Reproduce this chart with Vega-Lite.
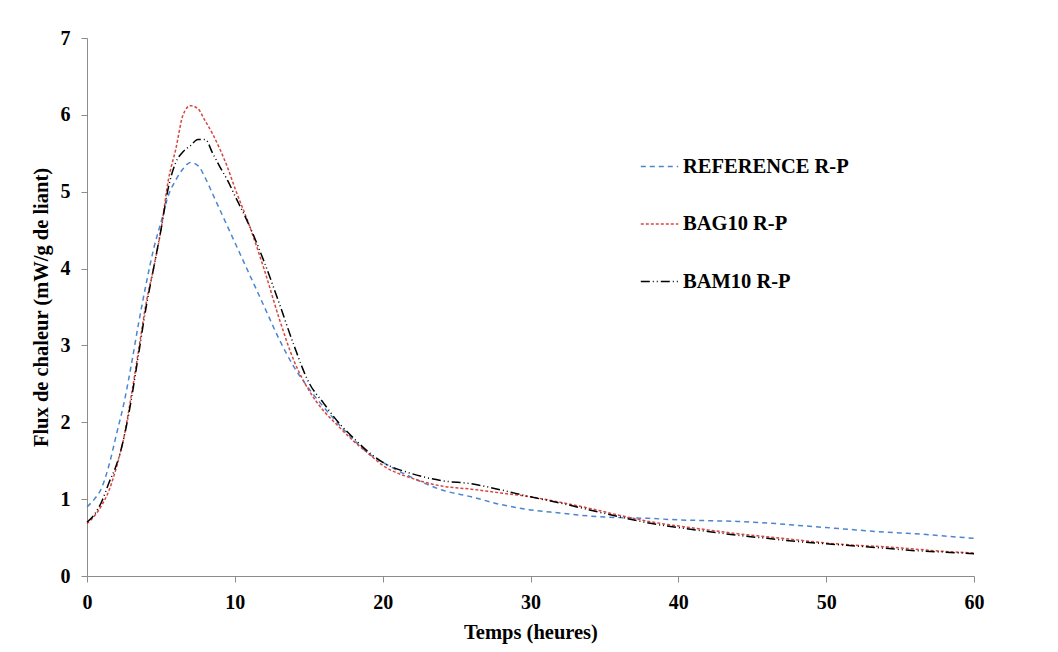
{
  "$schema": "https://vega.github.io/schema/vega-lite/v6.json",
  "width": 887,
  "height": 538,
  "autosize": "none",
  "padding": {"left": 87, "top": 38, "right": 84, "bottom": 76},
  "background": "white",
  "config": {
    "view": {"stroke": null},
    "font": "Liberation Serif",
    "axis": {
      "domainColor": "#8c8c8c",
      "tickColor": "#8c8c8c",
      "grid": false,
      "labelFont": "Liberation Serif",
      "labelFontWeight": "bold",
      "labelFontSize": 20,
      "labelColor": "black",
      "labelFlush": false,
      "titleFont": "Liberation Serif",
      "titleFontWeight": "bold",
      "titleFontSize": 20.5,
      "titleColor": "black",
      "tickSize": 6
    }
  },
  "data": {
    "values": [
      {"t": 0, "v": 0.90, "s": "REFERENCE R-P"},
      {"t": 0.5, "v": 1.0, "s": "REFERENCE R-P"},
      {"t": 1, "v": 1.15, "s": "REFERENCE R-P"},
      {"t": 1.5, "v": 1.45, "s": "REFERENCE R-P"},
      {"t": 2, "v": 1.85, "s": "REFERENCE R-P"},
      {"t": 2.5, "v": 2.25, "s": "REFERENCE R-P"},
      {"t": 3, "v": 2.75, "s": "REFERENCE R-P"},
      {"t": 3.5, "v": 3.3, "s": "REFERENCE R-P"},
      {"t": 4, "v": 3.8, "s": "REFERENCE R-P"},
      {"t": 4.5, "v": 4.25, "s": "REFERENCE R-P"},
      {"t": 5, "v": 4.6, "s": "REFERENCE R-P"},
      {"t": 5.5, "v": 4.95, "s": "REFERENCE R-P"},
      {"t": 6, "v": 5.15, "s": "REFERENCE R-P"},
      {"t": 6.5, "v": 5.3, "s": "REFERENCE R-P"},
      {"t": 7, "v": 5.38, "s": "REFERENCE R-P"},
      {"t": 7.5, "v": 5.34, "s": "REFERENCE R-P"},
      {"t": 8, "v": 5.18, "s": "REFERENCE R-P"},
      {"t": 8.5, "v": 4.97, "s": "REFERENCE R-P"},
      {"t": 9, "v": 4.76, "s": "REFERENCE R-P"},
      {"t": 9.5, "v": 4.55, "s": "REFERENCE R-P"},
      {"t": 10, "v": 4.34, "s": "REFERENCE R-P"},
      {"t": 11, "v": 3.92, "s": "REFERENCE R-P"},
      {"t": 12, "v": 3.5, "s": "REFERENCE R-P"},
      {"t": 13, "v": 3.08, "s": "REFERENCE R-P"},
      {"t": 14, "v": 2.72, "s": "REFERENCE R-P"},
      {"t": 15, "v": 2.44, "s": "REFERENCE R-P"},
      {"t": 16, "v": 2.2, "s": "REFERENCE R-P"},
      {"t": 17, "v": 1.98, "s": "REFERENCE R-P"},
      {"t": 18, "v": 1.78, "s": "REFERENCE R-P"},
      {"t": 19, "v": 1.6, "s": "REFERENCE R-P"},
      {"t": 20, "v": 1.48, "s": "REFERENCE R-P"},
      {"t": 22, "v": 1.28, "s": "REFERENCE R-P"},
      {"t": 24, "v": 1.12, "s": "REFERENCE R-P"},
      {"t": 26, "v": 1.03, "s": "REFERENCE R-P"},
      {"t": 28, "v": 0.93, "s": "REFERENCE R-P"},
      {"t": 30, "v": 0.86, "s": "REFERENCE R-P"},
      {"t": 32, "v": 0.82, "s": "REFERENCE R-P"},
      {"t": 34, "v": 0.78, "s": "REFERENCE R-P"},
      {"t": 36, "v": 0.76, "s": "REFERENCE R-P"},
      {"t": 38, "v": 0.75, "s": "REFERENCE R-P"},
      {"t": 40, "v": 0.73, "s": "REFERENCE R-P"},
      {"t": 42, "v": 0.72, "s": "REFERENCE R-P"},
      {"t": 44, "v": 0.71, "s": "REFERENCE R-P"},
      {"t": 46, "v": 0.69, "s": "REFERENCE R-P"},
      {"t": 48, "v": 0.66, "s": "REFERENCE R-P"},
      {"t": 50, "v": 0.63, "s": "REFERENCE R-P"},
      {"t": 52, "v": 0.60, "s": "REFERENCE R-P"},
      {"t": 54, "v": 0.57, "s": "REFERENCE R-P"},
      {"t": 56, "v": 0.55, "s": "REFERENCE R-P"},
      {"t": 58, "v": 0.52, "s": "REFERENCE R-P"},
      {"t": 60, "v": 0.49, "s": "REFERENCE R-P"},

      {"t": 0, "v": 0.68, "s": "BAG10 R-P"},
      {"t": 0.5, "v": 0.78, "s": "BAG10 R-P"},
      {"t": 1, "v": 0.92, "s": "BAG10 R-P"},
      {"t": 1.5, "v": 1.12, "s": "BAG10 R-P"},
      {"t": 2, "v": 1.42, "s": "BAG10 R-P"},
      {"t": 2.5, "v": 1.81, "s": "BAG10 R-P"},
      {"t": 3, "v": 2.35, "s": "BAG10 R-P"},
      {"t": 3.5, "v": 2.95, "s": "BAG10 R-P"},
      {"t": 4, "v": 3.55, "s": "BAG10 R-P"},
      {"t": 4.5, "v": 4.0, "s": "BAG10 R-P"},
      {"t": 5, "v": 4.5, "s": "BAG10 R-P"},
      {"t": 5.5, "v": 5.15, "s": "BAG10 R-P"},
      {"t": 6, "v": 5.55, "s": "BAG10 R-P"},
      {"t": 6.5, "v": 6.0, "s": "BAG10 R-P"},
      {"t": 7, "v": 6.12, "s": "BAG10 R-P"},
      {"t": 7.5, "v": 6.08, "s": "BAG10 R-P"},
      {"t": 8, "v": 5.92, "s": "BAG10 R-P"},
      {"t": 8.5, "v": 5.75, "s": "BAG10 R-P"},
      {"t": 9, "v": 5.55, "s": "BAG10 R-P"},
      {"t": 9.5, "v": 5.32, "s": "BAG10 R-P"},
      {"t": 10, "v": 5.05, "s": "BAG10 R-P"},
      {"t": 11, "v": 4.55, "s": "BAG10 R-P"},
      {"t": 12, "v": 3.98, "s": "BAG10 R-P"},
      {"t": 13, "v": 3.35, "s": "BAG10 R-P"},
      {"t": 14, "v": 2.8, "s": "BAG10 R-P"},
      {"t": 15, "v": 2.42, "s": "BAG10 R-P"},
      {"t": 16, "v": 2.15, "s": "BAG10 R-P"},
      {"t": 17, "v": 1.95, "s": "BAG10 R-P"},
      {"t": 18, "v": 1.76, "s": "BAG10 R-P"},
      {"t": 19, "v": 1.6, "s": "BAG10 R-P"},
      {"t": 20, "v": 1.44, "s": "BAG10 R-P"},
      {"t": 22, "v": 1.27, "s": "BAG10 R-P"},
      {"t": 24, "v": 1.17, "s": "BAG10 R-P"},
      {"t": 26, "v": 1.13, "s": "BAG10 R-P"},
      {"t": 28, "v": 1.08, "s": "BAG10 R-P"},
      {"t": 30, "v": 1.03, "s": "BAG10 R-P"},
      {"t": 32, "v": 0.96, "s": "BAG10 R-P"},
      {"t": 34, "v": 0.88, "s": "BAG10 R-P"},
      {"t": 36, "v": 0.79, "s": "BAG10 R-P"},
      {"t": 38, "v": 0.71, "s": "BAG10 R-P"},
      {"t": 40, "v": 0.65, "s": "BAG10 R-P"},
      {"t": 42, "v": 0.60, "s": "BAG10 R-P"},
      {"t": 44, "v": 0.55, "s": "BAG10 R-P"},
      {"t": 46, "v": 0.51, "s": "BAG10 R-P"},
      {"t": 48, "v": 0.47, "s": "BAG10 R-P"},
      {"t": 50, "v": 0.43, "s": "BAG10 R-P"},
      {"t": 52, "v": 0.40, "s": "BAG10 R-P"},
      {"t": 54, "v": 0.38, "s": "BAG10 R-P"},
      {"t": 56, "v": 0.35, "s": "BAG10 R-P"},
      {"t": 58, "v": 0.32, "s": "BAG10 R-P"},
      {"t": 60, "v": 0.30, "s": "BAG10 R-P"},

      {"t": 0, "v": 0.70, "s": "BAM10 R-P"},
      {"t": 0.5, "v": 0.80, "s": "BAM10 R-P"},
      {"t": 1, "v": 0.97, "s": "BAM10 R-P"},
      {"t": 1.5, "v": 1.22, "s": "BAM10 R-P"},
      {"t": 2, "v": 1.45, "s": "BAM10 R-P"},
      {"t": 2.5, "v": 1.8, "s": "BAM10 R-P"},
      {"t": 3, "v": 2.3, "s": "BAM10 R-P"},
      {"t": 3.5, "v": 2.9, "s": "BAM10 R-P"},
      {"t": 4, "v": 3.5, "s": "BAM10 R-P"},
      {"t": 4.5, "v": 4.0, "s": "BAM10 R-P"},
      {"t": 5, "v": 4.5, "s": "BAM10 R-P"},
      {"t": 5.5, "v": 5.05, "s": "BAM10 R-P"},
      {"t": 6, "v": 5.38, "s": "BAM10 R-P"},
      {"t": 6.5, "v": 5.52, "s": "BAM10 R-P"},
      {"t": 7, "v": 5.6, "s": "BAM10 R-P"},
      {"t": 7.5, "v": 5.68, "s": "BAM10 R-P"},
      {"t": 8, "v": 5.68, "s": "BAM10 R-P"},
      {"t": 8.5, "v": 5.5, "s": "BAM10 R-P"},
      {"t": 9, "v": 5.32, "s": "BAM10 R-P"},
      {"t": 9.5, "v": 5.15, "s": "BAM10 R-P"},
      {"t": 10, "v": 4.95, "s": "BAM10 R-P"},
      {"t": 11, "v": 4.55, "s": "BAM10 R-P"},
      {"t": 12, "v": 4.08, "s": "BAM10 R-P"},
      {"t": 13, "v": 3.55, "s": "BAM10 R-P"},
      {"t": 14, "v": 3.0, "s": "BAM10 R-P"},
      {"t": 15, "v": 2.52, "s": "BAM10 R-P"},
      {"t": 16, "v": 2.25, "s": "BAM10 R-P"},
      {"t": 17, "v": 2.0, "s": "BAM10 R-P"},
      {"t": 18, "v": 1.8, "s": "BAM10 R-P"},
      {"t": 19, "v": 1.62, "s": "BAM10 R-P"},
      {"t": 20, "v": 1.48, "s": "BAM10 R-P"},
      {"t": 22, "v": 1.33, "s": "BAM10 R-P"},
      {"t": 24, "v": 1.24, "s": "BAM10 R-P"},
      {"t": 26, "v": 1.2, "s": "BAM10 R-P"},
      {"t": 28, "v": 1.12, "s": "BAM10 R-P"},
      {"t": 30, "v": 1.03, "s": "BAM10 R-P"},
      {"t": 32, "v": 0.95, "s": "BAM10 R-P"},
      {"t": 34, "v": 0.86, "s": "BAM10 R-P"},
      {"t": 36, "v": 0.77, "s": "BAM10 R-P"},
      {"t": 38, "v": 0.69, "s": "BAM10 R-P"},
      {"t": 40, "v": 0.63, "s": "BAM10 R-P"},
      {"t": 42, "v": 0.58, "s": "BAM10 R-P"},
      {"t": 44, "v": 0.53, "s": "BAM10 R-P"},
      {"t": 46, "v": 0.49, "s": "BAM10 R-P"},
      {"t": 48, "v": 0.45, "s": "BAM10 R-P"},
      {"t": 50, "v": 0.42, "s": "BAM10 R-P"},
      {"t": 52, "v": 0.39, "s": "BAM10 R-P"},
      {"t": 54, "v": 0.36, "s": "BAM10 R-P"},
      {"t": 56, "v": 0.33, "s": "BAM10 R-P"},
      {"t": 58, "v": 0.31, "s": "BAM10 R-P"},
      {"t": 60, "v": 0.29, "s": "BAM10 R-P"}
    ]
  },
  "mark": {"type": "line", "strokeWidth": 1.5, "interpolate": "monotone"},
  "encoding": {
    "x": {
      "field": "t", "type": "quantitative",
      "scale": {"domain": [0, 60], "nice": false},
      "axis": {"values": [0, 10, 20, 30, 40, 50, 60], "title": "Temps (heures)", "labelPadding": 10, "titlePadding": 10}
    },
    "y": {
      "field": "v", "type": "quantitative",
      "scale": {"domain": [0, 7], "nice": false},
      "axis": {"values": [0, 1, 2, 3, 4, 5, 6, 7], "title": "Flux de chaleur (mW/g de liant)", "labelPadding": 11, "titlePadding": 9}
    },
    "color": {
      "field": "s", "type": "nominal",
      "sort": ["REFERENCE R-P", "BAG10 R-P", "BAM10 R-P"],
      "scale": {"domain": ["REFERENCE R-P", "BAG10 R-P", "BAM10 R-P"], "range": ["#4a86d0", "#d9453f", "#000000"]},
      "legend": {
        "title": null,
        "orient": "none",
        "legendX": 553,
        "legendY": 109,
        "symbolType": "stroke",
        "symbolSize": 1400,
        "symbolStrokeWidth": 1.5,
        "labelFont": "Liberation Serif",
        "labelFontWeight": "bold",
        "labelFontSize": 20.5,
        "labelColor": "black",
        "labelOffset": 4,
        "labelLimit": 400,
        "rowPadding": 27.5
      }
    },
    "strokeDash": {
      "field": "s", "type": "nominal",
      "sort": ["REFERENCE R-P", "BAG10 R-P", "BAM10 R-P"],
      "scale": {"domain": ["REFERENCE R-P", "BAG10 R-P", "BAM10 R-P"], "range": [[5, 4], [3, 2], [9, 3, 1, 3, 1, 3]]},
      "legend": null
    }
  }
}
